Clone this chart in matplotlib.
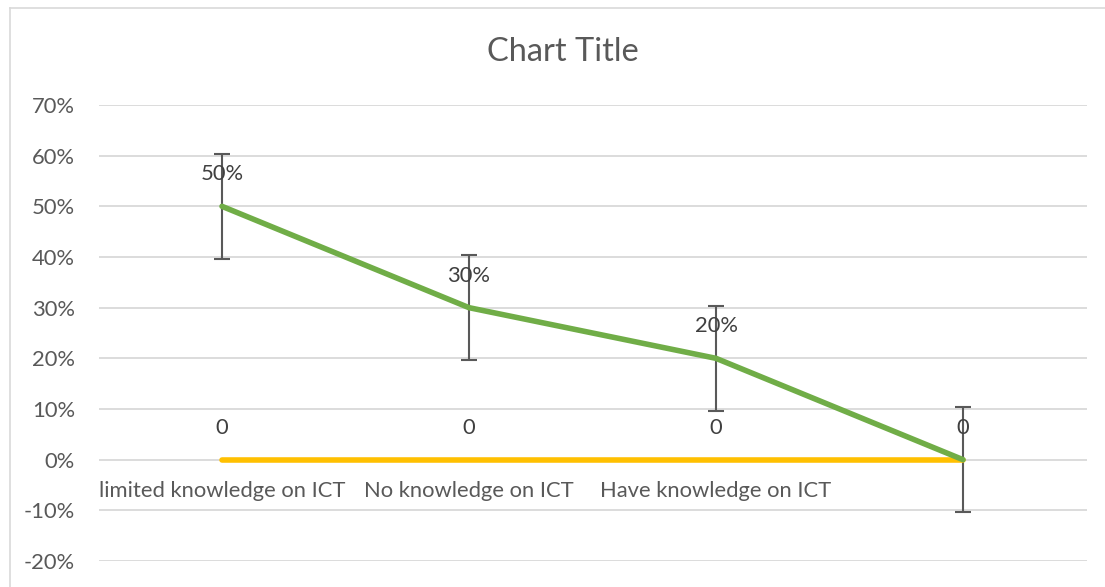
import numpy as np
import matplotlib.pyplot as plt
from matplotlib.ticker import FuncFormatter

categories = ['limited knowledge on ICT', 'No knowledge on ICT', 'Have knowledge on ICT', '']
green_vals = [0.50, 0.30, 0.20, 0.0]
green_labels = ['50%', '30%', '20%', '']
yellow_vals = [0, 0, 0, 0]
yellow_labels = ['0', '0', '0', '0']
err = 0.104

GREEN = '#70AD47'
YELLOW = '#FFC000'
TXT = '#595959'
GRID = '#D9D9D9'
FS = 15.8

plt.rcParams['font.family'] = ['Lato', 'DejaVu Sans']

W, H = 1105, 587
fig = plt.figure(figsize=(W / 100, H / 100), dpi=100)

# outer chart border (only top and left visible in the crop)
fig.add_artist(plt.Line2D([10 / W, 10 / W], [0, 1 - 8 / H], color=GRID, lw=1.2))
fig.add_artist(plt.Line2D([10 / W, 1], [1 - 8 / H, 1 - 8 / H], color=GRID, lw=1.2))

left, right = 98.5 / W, 1086.5 / W
top, bottom = 1 - 105 / H, 1 - 561 / H
ax = fig.add_axes([left, bottom, right - left, top - bottom])

x = np.arange(len(categories))
ax.set_xlim(-0.5, len(categories) - 0.5)
ax.set_ylim(-0.2, 0.7)
ax.set_yticks(np.arange(-0.2, 0.71, 0.1))
ax.yaxis.set_major_formatter(FuncFormatter(lambda v, p: '%d%%' % round(v * 100)))
ax.tick_params(axis='y', length=0, pad=17, labelsize=FS, labelcolor=TXT)
ax.set_xticks([])
for s in ax.spines.values():
    s.set_visible(False)
ax.grid(axis='y', color=GRID, lw=1.3)
ax.set_axisbelow(True)

ax.errorbar(x, green_vals, yerr=err, fmt='none', ecolor='#595959',
            elinewidth=1.5, capsize=6, capthick=1.5, zorder=2)
ax.plot(x, yellow_vals, color=YELLOW, lw=4, solid_capstyle='round', zorder=3)
ax.plot(x, green_vals, color=GREEN, lw=4, solid_capstyle='round', zorder=4)

for xi, v, lab in zip(x, green_vals, green_labels):
    ax.annotate(lab, (xi, v), xytext=(0, 32), textcoords='offset pixels',
                ha='center', va='center', fontsize=FS, color='#404040', zorder=5)
for xi, v, lab in zip(x, yellow_vals, yellow_labels):
    ax.annotate(lab, (xi, v), xytext=(0, 32), textcoords='offset pixels',
                ha='center', va='center', fontsize=FS, color='#404040', zorder=5)

# category labels sit on the zero line
for xi, lab in zip(x, categories):
    ax.annotate(lab, (xi, 0), xytext=(0, -31), textcoords='offset pixels',
                ha='center', va='center', fontsize=FS, color=TXT)

fig.text(563 / W, 1 - 52 / H, 'Chart Title', ha='center', va='center',
         fontsize=23.5, color=TXT)

fig.savefig('out.png', dpi=100, facecolor='white')
